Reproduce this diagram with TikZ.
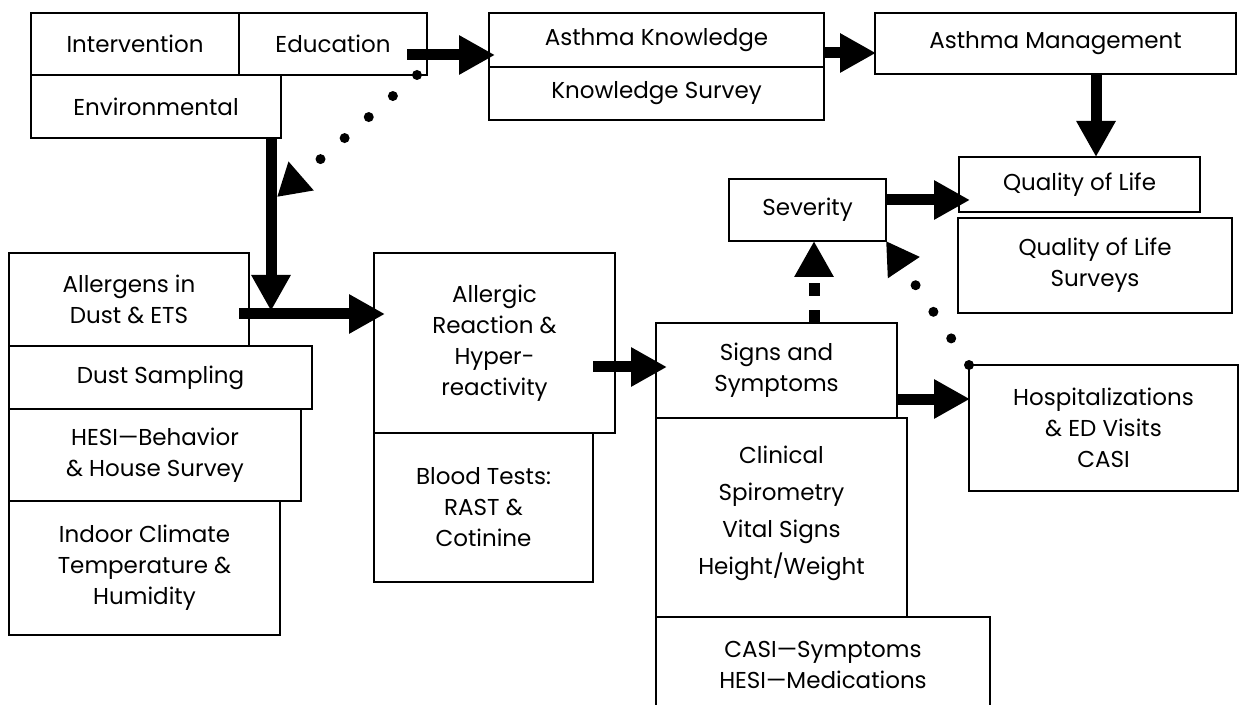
\documentclass[tikz,border=0pt]{standalone}
\usepackage{fontspec}
\setmainfont{Poppins}
\usetikzlibrary{calc,arrows.meta}
\tikzset{
 frame/.style={draw, line width=0.8pt, inner sep=0pt, outer sep=0pt,
        align=center, font=\fontsize{11.5}{15.5}\selectfont},
 fat/.style={line width=5.5pt, -{Triangle[length=18pt,width=18.5pt]}},
 fat dashed/.style={fat, dash pattern=on 6.5pt off 7pt},
 dot line/.style={line width=5pt, line cap=round, dash pattern=on 0pt off 16pt,
        -{Triangle[length=16pt,width=18pt]}},
}

\begin{document}
\begin{tikzpicture}[x=0.5pt, y=-0.5pt]
\useasboundingbox (0,0) rectangle (1241,705);
\clip (0,0) rectangle (1241,705);
% boxes: name / left / top / right / bottom (pixels) / text
\foreach \nm/\xa/\ya/\xb/\yb/\txt in {%
 int/31/13/239/75/{Intervention},
 edu/239/13/427/75/{Education},
 env/31/75/281/138/{Environmental},
 know/489/13/824/67/{Asthma Knowledge},
 ksurv/489/67/824/120/{Knowledge Survey},
 mgmt/875/13/1236/74/{Asthma Management},
 qol/959/157/1200/212/{Quality of Life},
 qsurv/958/218/1232/313/{Quality of Life\\Surveys},
 sev/729/179/886/241/{Severity},
 allerg/9/253/249/346/{Allergens in\\Dust \& ETS},
 dust/9/346/312/409/{Dust Sampling},
 hesi/9/409/301/501/{HESI—Behavior\\\& House Survey},
 climate/9/501/280/635/{Indoor Climate\\Temperature \&\\Humidity},
 react/374/253/615/433/{Allergic\\Reaction \&\\Hyper-\\reactivity},
 blood/374/433/593/582/{Blood Tests:\\RAST \&\\Cotinine},
 signs/656/323/897/418/{Signs and\\Symptoms},
 clin/656/418/907/617/{Clinical\\[3pt]Spirometry\\[3pt]Vital Signs\\[3pt]Height/Weight\\[-8pt]~},
 casi/656/617/990/712/{CASI—Symptoms\\HESI—Medications},
 hosp/969/365/1238/491/{Hospitalizations\\\& ED Visits\\CASI}%
}{
 \node[frame, minimum width={(\xb-\xa)*0.5pt}, minimum height={(\yb-\ya)*0.5pt}]
  (\nm) at ({(\xa+\xb)/2},{(\ya+\yb)/2}) {\txt};
}
% free ends on the Environmental arrow
\coordinate (junc) at ([shift={(-10,173)}]env.south east);
\coordinate (envhit) at ([shift={(-4,59)}]env.south east);

% solid arrows
\draw[fat] ([shift={(-20,11)}]edu.east) -- ([shift={(6,15)}]know.west);
\draw[fat] ([shift={(0,13)}]know.east) -- ([shift={(1,9.5)}]mgmt.west);
\draw[fat] ([shift={(40.5,0)}]mgmt.south) -- ([shift={(16.5,0)}]qol.north);
\draw[fat] ([shift={(-10,0)}]env.south east) -- (junc);
\draw[fat] ([shift={(-10,14.5)}]allerg.east) -- ([shift={(11,-29)}]react.west);
\draw[fat] ([shift={(-22,24)}]react.east) -- ([shift={(11,-3.5)}]signs.west);
\draw[fat] ([shift={(0,28.5)}]signs.east) -- ([shift={(1,-29)}]hosp.west);
\draw[fat] ([shift={(0,-10)}]sev.east) -- ([shift={(11,15.5)}]qol.west);
% dashed and dotted arrows
\draw[fat dashed] ([shift={(37.5,0)}]signs.north) -- ([shift={(6.5,0)}]sev.south);
\draw[dot line] ([shift={(-10,0)}]edu.south east) -- (envhit);
\draw[dot line] (hosp.north west) -- (sev.south east);
\end{tikzpicture}
\end{document}
